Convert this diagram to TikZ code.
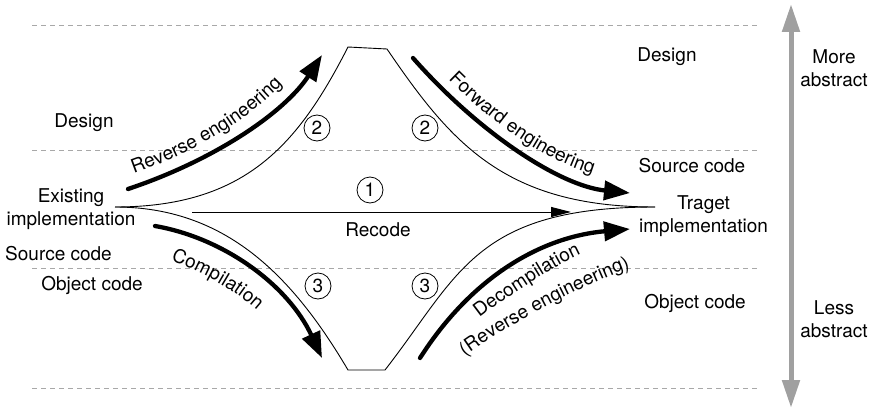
\documentclass[tikz,border=0pt]{standalone}
\usepackage{fontspec}
\setmainfont{TeX Gyre Heros}
\usetikzlibrary{arrows.meta,decorations.text}
\definecolor{dashgray}{RGB}{168,168,168}
\definecolor{axisgray}{RGB}{160,160,160}
\begin{document}
\begin{tikzpicture}[x=1pt,y=-1pt,
  lbl/.style={font=\fontsize{19}{23}\selectfont, inner sep=0pt, align=center},
  thinline/.style={line width=0.9pt},
  bigarrow/.style={line width=4.3pt, line cap=round, -{Triangle[length=26pt,width=19pt]}},
  num/.style={circle, draw, line width=0.8pt, inner sep=0pt, minimum size=26pt, font=\fontsize{19}{19}\selectfont},
  level/.style={dashgray, line width=0.9pt, dash pattern=on 4.5pt off 4.5pt},
  axis/.style={axisgray, line width=5pt, {Triangle[length=28pt,width=17pt]}-{Triangle[length=28pt,width=17pt]}},
]
\useasboundingbox (0,0) rectangle (874,409);

% level lines
\draw[level] (32,25) -- (757,25);
\draw[level] (32,150) -- (757,150);
\draw[level] (32,268) -- (757,268);
\draw[level] (32,388) -- (757,388);

% abstraction axis
\coordinate (axbot) at (791,408);
\coordinate (axtop) at (791,4);
\draw[axis] (axbot) -- (axtop);
\node[lbl] (more) at (834,68.6) {More\\abstract};
\node[lbl] (less) at (834,319.7) {Less\\abstract};

% key points of the shape
\coordinate (L) at (115,207);
\coordinate (R) at (655,207);
\coordinate (TL) at (348,47);
\coordinate (TR) at (387,49);
\coordinate (BL) at (348,370);
\coordinate (BR) at (385,370);

\draw[thinline] (L) .. controls (245,207) and (298,145) .. (TL) -- (TR)
  .. controls (451,143) and (505,207) .. (R);
\draw[thinline] (L) .. controls (225,207) and (292,275) .. (BL) -- (BR)
  .. controls (459,275) and (475,207) .. (R);

% recode
\coordinate (rc1) at (192,212);
\coordinate (rc2) at (571,212);
\draw[line width=1pt, -{Triangle[length=20pt,width=10pt]}] (rc1) -- (rc2);
\node[lbl, anchor=base] (recode) at (378,236) {Recode};

% thick arrows
\coordinate (re1) at (128,189);
\coordinate (re2) at (322,55);
\draw[bigarrow] (re1) .. controls (215,160) and (285,112) .. (re2);
\coordinate (fe1) at (413,58);
\coordinate (fe2) at (630,193);
\draw[bigarrow] (fe1) .. controls (479,133) and (560,186) .. (fe2);
\coordinate (co1) at (155,226);
\coordinate (co2) at (322,358);
\draw[bigarrow] (co1) .. controls (224,238) and (288,285) .. (co2);
\coordinate (de1) at (420,358);
\coordinate (de2) at (630,229);
\draw[bigarrow] (de1) .. controls (471,278) and (540,237) .. (de2);

% labels along arrows
\path[decorate, decoration={text along path, text={|\fontsize{19}{23}\selectfont|Reverse engineering}, text align={left indent=12pt}}]
  (122.5,177.6) .. controls (209.5,148.6) and (273.8,105) .. (310.8,48);
\path[decorate, decoration={text along path, text={|\fontsize{19}{23}\selectfont|Forward engineering}, text align=center}]
  (421.3,50.7) .. controls (487.3,125.7) and (561.1,175.1) .. (631.1,182.1);
\path[decorate, decoration={text along path, text={|\fontsize{19}{23}\selectfont|Compilation}, text align=center}]
  (154,255) .. controls (192,267) and (237,288) .. (270,323);
\path[decorate, decoration={text along path, text={|\fontsize{19}{23}\selectfont|Decompilation}, text align=center}]
  (472,324) .. controls (499,301.5) and (557.6,263) .. (590,250);
\path[decorate, decoration={text along path, text={|\fontsize{19}{23}\selectfont|(Reverse engineering)}, text align=center}]
  (460,360) .. controls (499,329) and (588.5,281.5) .. (636,266);

% circled numbers
\node[num] (n1) at (370,190) {1};
\node[num] (n2a) at (317,128) {2};
\node[num] (n2b) at (425,128) {2};
\node[num] (n3a) at (318,286) {3};
\node[num] (n3b) at (425,286) {3};

% left labels
\node[lbl, anchor=base] (ldesign) at (84,128) {Design};
\node[lbl] (exist) at (71,208.7) {Existing\\implementation};
\node[lbl, anchor=base] (lsource) at (58.5,260) {Source code};
\node[lbl, anchor=base] (lobject) at (92,290) {Object code};

% right labels
\node[lbl, anchor=base] (rdesign) at (667,62) {Design};
\node[lbl, anchor=base] (rsource) at (692,172) {Source code};
\node[lbl] (target) at (703.5,215.7) {Traget\\implementation};
\node[lbl, anchor=base] (robject) at (695,308) {Object code};
\end{tikzpicture}
\end{document}
